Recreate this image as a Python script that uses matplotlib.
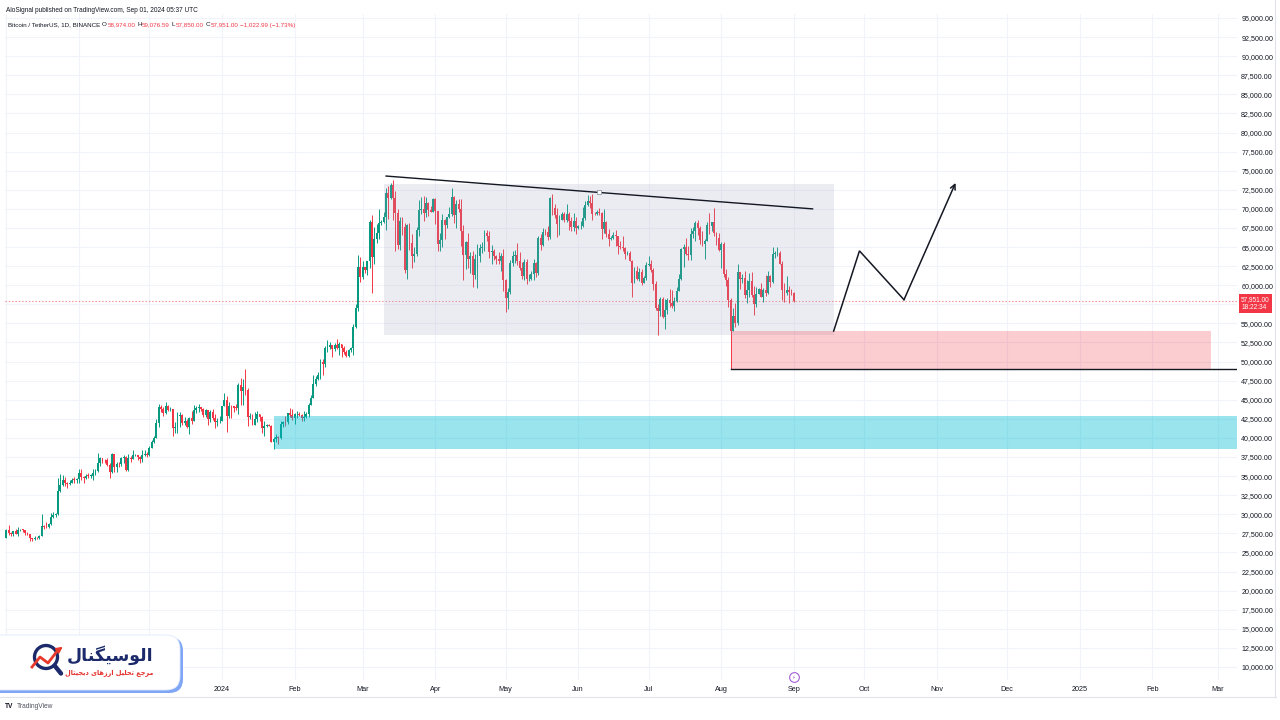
import numpy as np
import pandas as pd
import matplotlib
matplotlib.use('Agg')
import matplotlib.pyplot as plt
from matplotlib.patches import Rectangle, FancyBboxPatch, Circle
from matplotlib.transforms import blended_transform_factory

plt.rcParams['font.family'] = ['Liberation Sans', 'DejaVu Sans']

# BTCUSDT daily candles (thousands of USDT), 2023-10-01 .. 2024-09-01
start = pd.Timestamp('2023-10-01')
first_open = 26.96
closes = [
    # Oct 2023
    27.98, 27.49, 27.43, 27.78, 27.41, 27.93, 27.96, 27.92, 27.59, 27.39, 26.88, 26.76, 26.86, 26.85, 27.15, 28.50,
    28.40, 28.32, 28.71, 29.67, 29.91, 29.99, 33.09, 33.90, 34.50, 34.16, 33.91, 34.09, 34.54, 34.50, 34.67,
    # Nov
    35.42, 34.94, 34.73, 35.08, 35.05, 35.05, 35.42, 35.63, 36.70, 37.31, 37.13, 37.07, 36.46, 35.55, 37.88, 36.16,
    36.60, 36.57, 37.36, 37.45, 35.74, 37.41, 37.29, 37.72, 37.80, 37.45, 37.25, 37.83, 37.86, 37.71,
    # Dec
    38.69, 39.48, 39.98, 41.98, 44.08, 43.78, 43.29, 44.17, 43.71, 43.79, 41.25, 41.49, 42.87, 43.02, 41.94, 42.28,
    41.37, 42.66, 42.27, 43.65, 43.87, 44.00, 43.74, 43.02, 43.61, 42.52, 43.44, 42.63, 42.10, 42.16, 42.28,
    # Jan 2024
    44.18, 44.97, 42.85, 44.18, 44.16, 43.97, 43.93, 46.95, 46.11, 46.63, 46.34, 42.78, 42.85, 41.73, 42.51, 43.14,
    42.78, 41.26, 41.62, 41.67, 41.55, 39.51, 39.85, 40.08, 39.93, 41.82, 42.12, 42.03, 43.30, 42.95, 42.58,
    # Feb
    43.08, 43.20, 43.01, 42.58, 42.71, 43.10, 44.35, 45.29, 47.13, 47.75, 48.30, 49.92, 49.70, 51.80, 51.88, 52.13,
    51.64, 52.14, 51.78, 52.26, 51.84, 51.30, 50.73, 51.57, 51.73, 54.48, 57.04, 62.43, 61.13,
    # Mar
    62.39, 61.99, 63.11, 68.25, 63.72, 66.07, 66.82, 68.12, 68.31, 68.96, 72.08, 71.45, 73.07, 71.39, 69.50, 65.30,
    68.39, 67.61, 61.94, 67.84, 65.50, 63.80, 64.04, 67.21, 69.88, 69.99, 69.46, 70.74, 69.89, 69.65, 71.33,
    # Apr
    69.70, 65.45, 65.98, 68.51, 67.84, 68.90, 69.36, 71.62, 69.15, 70.63, 70.01, 67.12, 63.92, 65.66, 63.42, 63.79,
    61.28, 63.47, 63.82, 64.94, 64.94, 66.82, 66.41, 64.29, 64.50, 63.77, 63.46, 63.12, 63.87, 60.67,
    # May
    58.36, 59.06, 62.88, 63.89, 64.01, 63.17, 62.31, 61.19, 63.07, 60.80, 60.83, 61.48, 62.94, 61.58, 66.21, 65.24,
    67.02, 66.92, 66.27, 71.45, 70.15, 69.17, 67.97, 68.55, 69.29, 68.51, 69.39, 68.37, 67.64, 68.35, 67.49,
    # Jun
    67.71, 67.75, 68.80, 70.57, 71.08, 70.76, 69.34, 69.31, 69.65, 69.51, 67.33, 68.24, 66.76, 66.01, 66.19, 66.64,
    66.49, 65.14, 64.96, 64.83, 64.10, 64.25, 63.18, 60.28, 61.80, 60.86, 61.71, 60.32, 60.89, 62.68,
    # Jul
    62.77, 62.02, 60.21, 57.05, 56.63, 58.23, 55.86, 56.72, 58.05, 57.72, 57.34, 57.90, 59.23, 60.80, 64.72, 65.04,
    64.09, 63.99, 66.66, 67.14, 68.17, 67.53, 65.94, 65.37, 65.78, 67.91, 67.81, 68.26, 66.82, 66.20, 64.62,
    # Aug + Sep 1
    65.36, 61.42, 60.68, 58.12, 53.99, 56.03, 55.03, 61.71, 60.88, 60.95, 58.71, 59.35, 60.59, 58.68, 57.54, 58.87,
    59.49, 58.43, 59.44, 59.01, 61.16, 60.38, 64.09, 64.18, 64.22, 62.84, 59.42, 59.03, 59.36, 59.12, 58.97,
    57.951,
]
highs = [
    28.07, 28.58, 27.67, 27.83, 28.13, 28.29, 28.03, 28.10, 27.99, 27.73, 27.48, 26.94, 27.10, 26.99, 27.29, 30.00,
    28.61, 28.98, 28.92, 30.20, 30.34, 30.21, 34.74, 35.28, 35.13, 34.83, 34.24, 34.48, 34.77, 34.85, 34.72,
    35.99, 35.97, 34.95, 35.26, 35.38, 35.28, 35.89, 35.98, 37.97, 37.53, 37.40, 37.23, 37.43, 36.77, 37.98, 37.93,
    36.85, 36.86, 37.54, 37.75, 37.65, 37.89, 37.65, 38.43, 37.90, 37.83, 37.59, 38.39, 38.45, 38.16,
    38.97, 39.68, 40.20, 42.42, 44.49, 44.30, 44.05, 44.70, 44.36, 44.04, 43.80, 42.10, 43.43, 43.42, 43.09, 42.70,
    42.42, 42.76, 43.48, 44.28, 44.24, 44.40, 44.10, 43.95, 43.80, 43.64, 43.68, 43.80, 43.12, 42.60, 42.90,
    44.19, 45.88, 45.50, 44.77, 44.34, 44.23, 44.50, 47.25, 47.90, 47.70, 48.97, 46.50, 43.26, 43.08, 43.40, 43.58,
    43.20, 42.93, 42.20, 41.87, 41.88, 41.65, 40.13, 40.55, 40.30, 42.22, 42.20, 42.84, 43.31, 43.88, 43.74,
    43.29, 43.49, 43.38, 43.12, 43.53, 43.40, 44.52, 45.60, 48.20, 48.17, 48.59, 50.33, 50.37, 52.04, 52.82, 52.57,
    52.19, 52.48, 52.98, 52.57, 52.36, 52.00, 51.55, 51.70, 51.95, 54.91, 57.58, 64.00, 63.68,
    63.11, 62.43, 63.23, 68.50, 69.17, 67.64, 67.99, 69.99, 68.59, 69.60, 72.80, 72.97, 73.45, 73.78, 72.36, 70.04,
    68.90, 68.95, 68.10, 68.03, 68.20, 66.65, 65.00, 67.62, 71.15, 71.56, 71.73, 71.55, 70.92, 70.35, 71.37,
    71.37, 69.70, 66.90, 69.29, 68.72, 69.00, 70.28, 72.80, 71.74, 71.17, 71.26, 71.23, 67.93, 65.84, 66.87, 64.36,
    64.47, 64.12, 65.45, 65.39, 65.70, 67.23, 67.20, 67.07, 65.30, 64.79, 63.92, 64.36, 64.23, 64.74,
    60.78, 59.60, 63.32, 64.50, 64.66, 65.50, 64.39, 62.99, 63.42, 63.47, 61.49, 61.82, 63.45, 63.10, 66.44, 66.70,
    67.45, 67.40, 67.70, 71.51, 71.98, 70.67, 70.09, 69.25, 69.58, 69.56, 70.60, 69.60, 68.92, 69.50, 69.00,
    67.86, 68.42, 70.27, 71.06, 71.76, 71.63, 71.99, 69.56, 69.85, 70.15, 69.56, 69.99, 68.45, 67.30, 66.40, 66.95,
    67.20, 66.49, 65.73, 66.48, 65.07, 64.52, 64.49, 63.37, 62.37, 62.48, 62.29, 62.19, 61.20, 63.00,
    63.86, 63.29, 62.28, 60.50, 57.50, 58.48, 58.45, 58.24, 58.30, 59.47, 59.40, 58.50, 59.80, 61.42, 64.90, 65.39,
    66.13, 65.10, 67.44, 67.60, 68.37, 68.48, 67.80, 67.10, 66.10, 68.24, 69.40, 68.32, 70.08, 66.99, 66.83,
    65.60, 65.60, 62.19, 61.12, 58.28, 57.04, 57.70, 62.73, 61.75, 61.46, 61.86, 60.68, 61.58, 61.78, 59.84, 59.83,
    59.69, 60.25, 59.62, 61.40, 61.80, 61.40, 64.95, 64.51, 65.00, 64.48, 63.21, 60.23, 61.18, 59.94, 59.45,
    59.08,
]
lows = [
    26.95, 27.28, 27.16, 27.22, 27.38, 27.18, 27.84, 27.71, 27.26, 27.30, 26.56, 26.56, 26.69, 26.80, 26.81, 27.11,
    28.08, 28.15, 28.18, 28.60, 29.47, 29.67, 29.88, 32.86, 33.69, 33.77, 33.39, 33.89, 34.05, 34.08, 34.07,
    34.10, 34.48, 34.10, 34.58, 34.74, 34.73, 34.52, 35.11, 35.54, 36.34, 36.71, 36.75, 36.34, 34.80, 35.36, 35.54,
    35.51, 36.16, 36.38, 36.72, 35.63, 35.63, 36.87, 37.25, 37.60, 37.15, 36.70, 36.90, 37.60, 37.50,
    37.62, 38.65, 39.28, 39.96, 41.42, 43.34, 42.82, 43.08, 43.58, 43.57, 40.22, 40.68, 40.64, 41.40, 41.67, 41.73,
    41.25, 40.53, 41.80, 42.18, 43.30, 43.40, 43.58, 42.76, 42.72, 41.65, 42.10, 42.30, 41.30, 41.52, 41.96,
    42.18, 44.15, 40.75, 42.63, 42.60, 43.40, 43.60, 43.17, 44.30, 44.30, 45.60, 41.50, 42.44, 41.70, 41.72, 42.05,
    42.20, 40.68, 40.28, 41.45, 41.50, 39.43, 38.56, 39.49, 39.26, 39.82, 41.40, 41.62, 41.80, 42.68, 42.30,
    41.88, 42.55, 42.88, 42.22, 42.26, 42.58, 42.79, 44.33, 45.24, 46.80, 47.56, 47.71, 48.30, 49.30, 51.28, 51.63,
    50.63, 51.38, 51.69, 50.88, 50.62, 50.95, 50.54, 50.58, 51.28, 50.90, 54.45, 56.69, 60.36,
    60.78, 61.60, 61.32, 62.30, 59.01, 62.80, 65.55, 66.08, 67.93, 68.12, 67.19, 68.62, 71.33, 68.56, 64.53, 64.78,
    64.55, 66.60, 61.56, 60.78, 64.56, 62.26, 63.00, 63.80, 66.39, 69.28, 68.38, 68.90, 69.12, 69.56, 69.64,
    68.06, 64.50, 64.50, 65.06, 66.01, 67.45, 68.80, 69.04, 68.20, 67.52, 69.57, 65.09, 60.66, 62.13, 62.30, 61.60,
    59.77, 60.80, 59.60, 63.10, 64.24, 64.50, 65.80, 63.60, 62.78, 63.30, 62.80, 62.76, 61.80, 59.19,
    56.55, 56.94, 58.85, 62.58, 62.90, 62.70, 62.05, 60.85, 60.65, 60.19, 60.50, 60.63, 60.75, 61.13, 61.33, 64.60,
    65.13, 66.60, 65.86, 66.08, 69.16, 68.84, 66.30, 66.60, 68.50, 68.23, 68.24, 67.29, 67.12, 67.13, 66.67,
    67.38, 67.30, 67.61, 68.56, 70.39, 70.12, 68.50, 69.22, 69.15, 69.23, 66.05, 66.90, 66.30, 65.08, 65.89, 66.03,
    65.10, 64.06, 64.70, 64.50, 63.38, 63.94, 63.18, 58.40, 60.24, 60.71, 60.57, 60.07, 60.26, 60.65,
    62.50, 61.75, 59.42, 56.78, 53.49, 56.01, 55.73, 54.26, 56.29, 57.16, 57.03, 56.56, 57.74, 59.22, 60.64, 62.40,
    63.90, 63.24, 63.30, 66.22, 65.80, 66.57, 65.44, 65.11, 63.43, 65.74, 66.65, 67.07, 66.48, 65.30, 64.53,
    62.25, 61.10, 59.85, 57.12, 49.00, 53.96, 54.55, 54.73, 59.56, 60.27, 58.29, 57.64, 58.43, 58.46, 56.08, 57.09,
    58.79, 58.41, 57.86, 58.59, 58.80, 59.80, 60.34, 63.58, 63.78, 62.80, 58.03, 57.86, 58.75, 57.70, 58.75,
    57.85,
]

# drawings on the chart (dates, prices in thousands)
range_box = ('2024-03-10', '2024-09-18', 53.5, 73.2)
demand_box = ('2024-08-05', '2025-02-26', 49.0, 54.0)
support_box = ('2024-01-23', '2025-04-01', 38.55, 42.9)
low_line = ('2024-08-05', '2025-04-01', 49.0)
trend_pts = [('2024-03-11', 74.3), ('2024-09-09', 70.0)]
path_pts = [('2024-09-18', 54.0), ('2024-09-29', 64.5), ('2024-10-18', 58.1), ('2024-11-09', 73.4)]

header = 'AloSignal published on TradingView.com, Sep 01, 2024 05:37 UTC'
symbol = 'Bitcoin / TetherUS, 1D, BINANCE'
ohlc_info = [('O', '58,974.00'), ('H', '59,076.59'), ('L', '57,850.00'), ('C', '57,951.00')]
change_info = '\u22121,022.99 (\u22121.73%)'
countdown = '18:22:34'
# logo texts (Arabic presentation forms in visual order)
logo_title = '\uFEDD\uFE8E\uFEE8\uFB95\uFEF4\uFEB3\uFEEE\uFEDF\uFE8D'  # الوسیگنال
logo_sub = ('\uFEDD\uFE8E\uFE98\uFEF4\uFEA0\uFEF3\uFEA9 \uFEEF\uFE8E\uFEEB\uFEAF\uFEAD\uFE8D '
            '\uFEDE\uFEF4\uFEE0\uFEA4\uFE97 \uFECA\uFE9F\uFEAE\uFEE3')  # مرجع تحلیل ارزهای دیجیتال

UP = '#089981'
DOWN = '#f23645'
INK = '#131722'


def d(s):
    return (pd.Timestamp(s) - start).days


opens = [first_open] + closes[:-1]
dates = pd.date_range(start, periods=len(closes), freq='D')
x = np.asarray((dates - start).days, dtype=float)
o = np.array(opens)
c = np.array(closes)
h = np.array(highs)
l = np.array(lows)
colors = np.where(c >= o, UP, DOWN)

fig = plt.figure(figsize=(12.8, 7.2), dpi=100)
ax = fig.add_axes([5 / 1280, 40 / 720, 1232 / 1280, 666 / 720])

# candles
body = c - o
body = np.where(np.abs(body) < 0.05, 0.05, body)
ax.vlines(x, l, h, colors=colors, lw=0.7, zorder=3)
ax.bar(x, body, bottom=o, width=0.8, color=colors, lw=0, zorder=3)

# current price line
last = closes[-1]
ax.axhline(last, color='#f48a93', ls=(0, (1.2, 1.8)), lw=0.8, zorder=2)

# boxes
x0, x1, y0, y1 = range_box
ax.add_patch(Rectangle((d(x0), y0), d(x1) - d(x0), y1 - y0, fc='#9fa3c0', alpha=0.2, lw=0, zorder=4))
x0, x1, y0, y1 = demand_box
ax.add_patch(Rectangle((d(x0), y0), d(x1) - d(x0), y1 - y0, fc=DOWN, alpha=0.25, lw=0, zorder=4))
x0, x1, y0, y1 = support_box
ax.add_patch(Rectangle((d(x0), y0), d(x1) - d(x0), y1 - y0, fc='#00bcd4', alpha=0.4, lw=0, zorder=4))
ax.plot([d(low_line[0]), d(low_line[1])], [low_line[2], low_line[2]], color=INK, lw=1.0, zorder=5)

# trend line
tx = [d(p[0]) for p in trend_pts]
ty = [p[1] for p in trend_pts]
ax.plot(tx, ty, color=INK, lw=1.0, zorder=5)
mark_x = d('2024-06-10')
ax.plot([mark_x], [np.interp(mark_x, tx, ty)], marker='s', ms=2.6, mfc='white', mec='#9598a1', mew=0.6, zorder=6)

# projected path
px = [d(p[0]) for p in path_pts]
py = [p[1] for p in path_pts]
ax.plot(px[:-1], py[:-1], color=INK, lw=1.1, zorder=5, solid_joinstyle='miter')
ax.annotate('', xy=(px[-1], py[-1]), xytext=(px[-2], py[-2]),
            arrowprops=dict(arrowstyle='->', color=INK, lw=1.1, mutation_scale=9, shrinkA=0, shrinkB=0), zorder=5)

# axes setup
ax.set_xlim(-0.6, 525.1)
ax.set_ylim(8.297, 95.524)
months = pd.date_range('2023-10-01', '2025-03-01', freq='MS')
mlabels = [str(m.year) if m.month == 1 else m.strftime('%b') for m in months]
ax.set_xticks((months - start).days)
ax.set_xticklabels(mlabels)
yt = np.arange(10, 95.1, 2.5)
ax.set_yticks(yt)
# the price label hides the scale value it covers
ax.set_yticklabels(['' if abs(v - last) < 1.2 else f'{v * 1000:,.2f}' for v in yt])
ax.yaxis.tick_right()
ax.tick_params(axis='y', length=0, pad=3, labelsize=5.1, labelcolor=INK)
ax.tick_params(axis='x', length=0, pad=4.5, labelsize=5.2, labelcolor=INK)
ax.grid(True, color='#f0f3fa', lw=0.8, zorder=0)
for s in ax.spines.values():
    s.set_visible(False)

# price label on the scale
trans = blended_transform_factory(ax.transAxes, ax.transData)
ax.annotate(f'{last * 1000:,.2f}\n{countdown}', xy=(1, last), xycoords=trans, xytext=(3.0, 3.4),
            textcoords='offset points', ha='left', va='top', fontsize=4.7, color='white', linespacing=1.15,
            bbox=dict(boxstyle='square,pad=0.3', fc=DOWN, ec='none'), annotation_clip=False, zorder=7)

# event icon
ax.plot([d('2024-09-01')], [8.7], marker='o', ms=7, mfc='white', mec='#a35fd6', mew=0.8, clip_on=False, zorder=7)
ax.text(d('2024-09-01'), 8.7, '\u26a1', fontsize=3.8, color='#a35fd6', ha='center', va='center',
        family=['DejaVu Sans'], clip_on=False, zorder=8)

# overlay in pixel units for header, logo and footer
lay = fig.add_axes([0, 0, 1, 1], zorder=10)
lay.set_xlim(0, 1280)
lay.set_ylim(720, 0)
lay.axis('off')
renderer = fig.canvas.get_renderer()


def chain(x0, y0, parts, size):
    # put text pieces one after another, each starting where the last ended
    xc = x0
    for txt, col, gap in parts:
        t = lay.text(xc, y0, txt, fontsize=size, color=col, va='center')
        bb = t.get_window_extent(renderer)
        xc += bb.width + gap
    return xc


lay.text(6, 10, header, fontsize=4.7, color=INK, va='center')
parts = [(symbol, INK, 2.0)]
for k, v in ohlc_info:
    parts.append((k, INK, 0.3))
    parts.append((v, DOWN, 2.0))
parts.append((change_info, DOWN, 0))
chain(8, 25, parts, 4.5)

lay.plot([0, 1276], [697, 697], color='#e0e3eb', lw=0.8)
lay.plot([1275, 1275], [0, 697], color='#e0e3eb', lw=0.8)

# logo card
lay.add_patch(FancyBboxPatch((-20, 637), 203, 56, boxstyle='round,pad=0,rounding_size=14',
                             fc='#7fa6f5', ec='none'))
lay.add_patch(FancyBboxPatch((-22, 635), 202, 55, boxstyle='round,pad=0,rounding_size=14',
                             fc='white', ec='#dfe8fd', lw=0.6))
lay.add_patch(Circle((46, 657), 11.5, fc='white', ec='#1c2a6b', lw=2.4))
lay.plot([54.5, 61], [665.5, 673.5], color='#1c2a6b', lw=3.2, solid_capstyle='round')
lay.plot([32, 40, 48, 58], [667, 657, 663, 650], color='#e8392b', lw=2.0)
lay.annotate('', xy=(65, 645), xytext=(57, 651),
             arrowprops=dict(arrowstyle='-|>', color='#e8392b', lw=1.5, mutation_scale=8))
lay.text(153, 655, logo_title, fontsize=12.5, fontweight='bold', color='#1c2a6b', ha='right', va='center',
         family=['DejaVu Sans'])
lay.text(153, 673, logo_sub, fontsize=4.7, fontweight='bold', color='#e5322d', ha='right', va='center',
         family=['DejaVu Sans'])

# footer
lay.text(5, 706, 'TV', fontsize=4.8, fontweight='bold', color=INK, va='center')
lay.text(17, 706, 'TradingView', fontsize=4.8, color='#50535e', va='center')

fig.savefig('out.png', dpi=100)
